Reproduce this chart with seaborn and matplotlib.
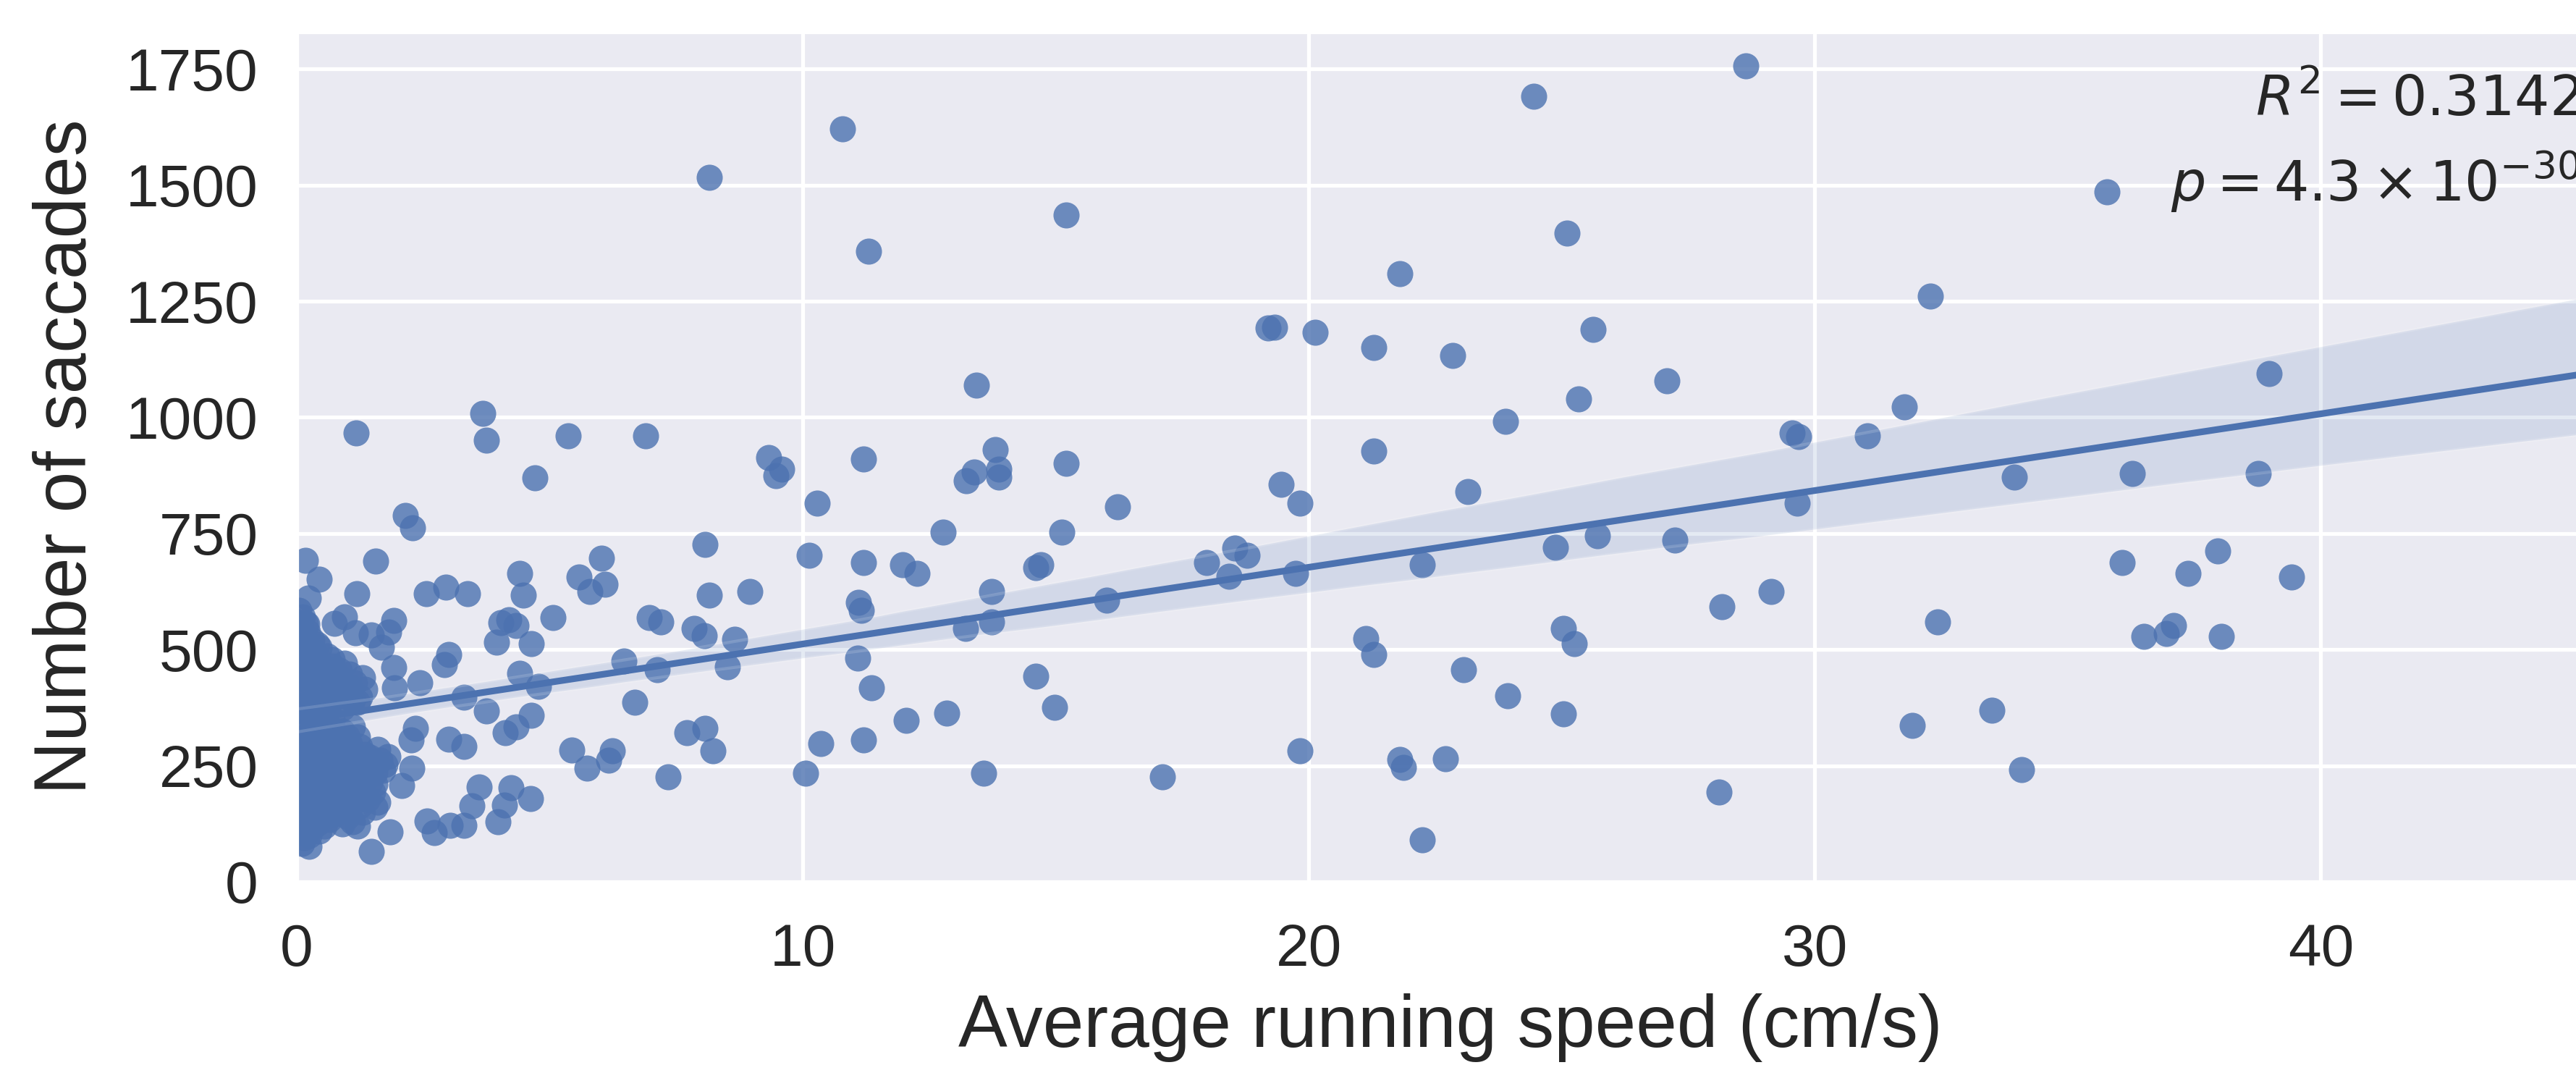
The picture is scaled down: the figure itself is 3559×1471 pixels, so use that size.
import matplotlib
matplotlib.use("Agg")
import matplotlib.pyplot as plt
import pandas as pd
import seaborn as sns

# Sessions where the mouse barely moved (dense cluster near 0 cm/s)
still_speed = [
    0.05, 0.12, 0.08, 0.22, 0.05, 0.30, 0.40, 0.10, 0.35, 0.60, 0.70,
    0.05, 0.30, 0.55, 0.85, 1.05, 0.10, 0.40, 0.65, 0.90, 1.15, 1.30,
    0.05, 0.25, 0.50, 0.75, 1.00, 1.25, 0.15, 0.40, 0.65, 0.90, 1.20,
    0.05, 0.30, 0.55, 0.70, 0.15, 0.40, 0.65, 0.90, 1.10,
    0.05, 0.30, 0.55, 0.80, 1.05, 1.20, 0.10, 0.35, 0.60, 0.85, 1.10, 1.35, 1.60, 1.80,
    0.05, 0.30, 0.55, 0.80, 1.05, 1.30, 1.55, 1.75, 0.15, 0.40, 0.65, 0.90, 1.15, 1.40, 1.55,
    0.05, 0.30, 0.55, 0.80, 1.05, 1.30, 1.55, 0.15, 0.40, 0.65, 0.90, 1.15, 1.40, 1.60,
    0.05, 0.30, 0.55, 0.80, 1.05, 1.30, 1.55, 0.15, 0.40, 0.65, 0.90, 1.10,
    0.05, 0.25, 0.45, 0.10, 0.25,
    0.02, 0.20, 0.15, 0.45, 0.20, 0.70, 0.95, 0.25, 0.55, 0.80, 1.05, 1.35, 0.15,
    0.35, 0.60, 0.85, 1.10, 0.20, 0.45, 0.25, 0.50, 0.75, 1.00, 0.20, 0.45, 0.70,
    0.95, 1.25, 1.45, 0.20, 0.45, 0.70, 0.95, 1.20, 1.65, 0.10, 0.30, 0.55, 0.80,
    1.05, 1.30, 1.70, 0.20, 0.45, 0.70, 0.95, 1.20, 1.45, 0.15, 0.40, 0.65, 0.95,
    1.25, 1.50, 0.20, 0.45, 0.75, 1.00, 1.25, 0.20, 0.45, 0.70, 1.00, 0.30, 0.55, 0.15,
]
still_saccades = [
    585, 570, 545, 538, 525, 520, 512, 492, 496, 486, 478,
    465, 458, 462, 455, 448, 438, 434, 441, 431, 428, 440,
    410, 402, 408, 399, 406, 397, 381, 376, 384, 374, 386,
    357, 351, 359, 349, 331, 326, 334, 324, 333,
    306, 299, 309, 301, 297, 311, 281, 275, 284, 271, 279, 274, 286, 269,
    256, 249, 259, 247, 254, 251, 257, 253, 231, 225, 234, 223, 233, 226, 236,
    204, 199, 209, 197, 206, 201, 211, 181, 175, 184, 174, 183, 177, 171,
    156, 151, 159, 149, 157, 150, 161, 131, 125, 134, 124, 129,
    106, 99, 109, 83, 77,
    560, 555, 500, 505, 470, 465, 470, 445, 425, 445, 420, 415, 420,
    390, 395, 388, 392, 365, 340, 318, 316, 318, 312, 292, 290, 293,
    288, 292, 268, 265, 266, 262, 267, 265, 262, 240, 238, 242, 236,
    240, 238, 240, 218, 216, 220, 214, 218, 214, 192, 190, 194, 188,
    190, 193, 168, 165, 166, 170, 163, 143, 140, 145, 140, 118, 120, 95,
]

# Slow walking sessions (below ~5.5 cm/s)
slow_speed = [
    1.18, 3.68, 3.75, 5.36, 4.70, 2.15, 2.29,
    0.17, 1.56, 0.45, 0.23, 1.19, 4.41, 4.48, 2.56, 2.95, 3.37,
    5.07, 4.04, 4.19, 3.95, 4.63, 4.33,
    0.74, 0.94, 1.16, 1.91, 1.48, 1.82, 1.67, 1.91, 0.17, 0.17,
    3.00, 2.92, 2.43, 1.93, 4.41, 4.78, 3.31, 3.75,
    2.34, 2.26, 3.00, 3.31, 4.12, 4.33, 4.63, 5.43,
    2.28, 2.08, 3.60, 3.46, 2.57, 2.72, 3.03, 3.31, 3.98, 4.10, 4.24, 4.62,
    1.85, 1.48, 1.20,
]
slow_saccades = [
    966, 1008, 951, 960, 870, 788, 762,
    692, 691, 652, 611, 620, 664, 617, 620, 635, 620,
    569, 558, 564, 516, 513, 552,
    556, 571, 536, 563, 532, 537, 505, 461, 556, 508,
    490, 468, 428, 417, 449, 421, 398, 368,
    331, 306, 307, 292, 321, 333, 359, 283,
    244, 208, 204, 163, 131, 106, 121, 122, 130, 165, 202, 180,
    108, 66, 120,
]

# Moderate running (about 5.5 to 11.5 cm/s)
moderate_speed = [
    6.90, 5.58, 6.02, 6.09, 5.80, 6.97, 7.19, 7.85, 8.05, 8.66, 6.46,
    7.12, 6.68, 8.51, 8.15, 8.95, 8.07, 9.32, 9.59, 9.47, 10.29, 10.13,
    8.15, 10.79, 11.30, 11.20, 11.20, 11.10, 11.15, 11.08, 11.35, 11.20,
    10.05, 10.35, 7.34, 7.71, 8.07, 8.22, 5.73, 6.24, 6.17,
]
moderate_saccades = [
    960, 656, 696, 641, 625, 569, 560, 546, 530, 522, 475,
    457, 386, 463, 617, 625, 727, 913, 889, 875, 816, 703,
    1517, 1621, 1357, 911, 688, 602, 584, 482, 417, 305,
    234, 297, 226, 321, 330, 282, 244, 282, 262,
]

# Fast running (about 11.5 to 22.5 cm/s)
fast_speed = [
    15.20, 13.43, 19.33, 19.20, 20.12, 21.29, 21.80, 21.29,
    13.80, 13.87, 13.87, 13.23, 13.39, 15.20, 16.22, 19.45, 19.82,
    12.78, 15.12, 11.97, 12.26, 14.71, 14.60, 13.73, 17.98, 18.54, 18.78,
    18.43, 19.74, 22.24,
    13.22, 13.73, 16.00, 14.61, 14.98, 12.05, 12.85, 13.58, 17.10, 21.13,
    21.29, 19.82, 21.80, 21.87, 22.24,
]
fast_saccades = [
    1436, 1069, 1194, 1192, 1183, 1150, 1310, 928,
    931, 889, 871, 863, 883, 901, 808, 856, 816,
    753, 753, 682, 664, 682, 676, 625, 688, 719, 703,
    658, 664, 682,
    546, 560, 607, 442, 376, 347, 363, 234, 226, 524,
    489, 282, 264, 247, 90,
]

# Very fast running (above 22.5 cm/s)
sprint_speed = [
    24.45, 28.63, 25.10, 25.62, 22.85, 32.28, 27.08, 25.33, 23.88, 31.77,
    29.55, 29.68, 31.04, 23.14, 29.65, 24.88, 25.70, 27.23, 25.03, 25.25,
    28.17, 29.13, 23.06, 23.93, 25.03, 22.70, 28.11, 32.43, 31.92, 33.50,
    35.77, 38.98, 33.94, 36.28, 38.76, 36.07, 37.37, 37.96, 39.42, 36.51,
    36.94, 37.09, 38.04, 34.09,
]
sprint_saccades = [
    1692, 1756, 1397, 1189, 1133, 1261, 1079, 1039, 991, 1023,
    966, 958, 960, 840, 816, 720, 745, 736, 546, 513,
    593, 625, 457, 400, 361, 265, 193, 560, 336, 369,
    1485, 1094, 871, 879, 879, 688, 664, 712, 656, 528,
    534, 552, 528, 241,
]

stats_r2 = r"$R^2 = 0.3142$"
stats_p = r"$p = 4.3 \times 10^{-30}$"

df = pd.DataFrame({
    "speed": still_speed + slow_speed + moderate_speed + fast_speed + sprint_speed,
    "saccades": still_saccades + slow_saccades + moderate_saccades
    + fast_saccades + sprint_saccades,
})

sns.set_theme(style="darkgrid")
plt.rcParams["font.family"] = ["Liberation Sans", "DejaVu Sans"]
plt.rcParams["mathtext.fontset"] = "dejavusans"

W, H, DPI = 3559, 1471, 300
fig = plt.figure(figsize=(W / DPI, H / DPI), dpi=DPI)
ax = fig.add_axes([410 / W, 1 - 1218 / H, 3188 / W, 1174 / H])
ax.set_xlim(0, 45.6)

sns.regplot(
    data=df, x="speed", y="saccades", ax=ax, truncate=False, seed=0,
    scatter_kws=dict(s=75, alpha=0.8, linewidths=0),
    line_kws=dict(lw=2.2),
)

ax.set_xlim(0, 45.6)
ax.set_ylim(0, 1830)
ax.set_xticks([0, 10, 20, 30, 40])
ax.set_yticks(range(0, 1751, 250))
ax.tick_params(axis="both", labelsize=19.7, length=0)
ax.tick_params(axis="x", pad=13.7)
ax.tick_params(axis="y", pad=12.8)
ax.grid(lw=1.25)
ax.set_xlabel("Average running speed (cm/s)", fontsize=24.4, labelpad=5)
ax.set_ylabel("Number of saccades", fontsize=24.4, labelpad=8)

fig.text(3116 / W, 1 - 160 / H, stats_r2, ha="left", va="baseline",
         fontsize=18.3, color="#262626")
fig.text(2999 / W, 1 - 278 / H, stats_p, ha="left", va="baseline",
         fontsize=18.3, color="#262626")

fig.savefig("out.png", dpi=DPI)
